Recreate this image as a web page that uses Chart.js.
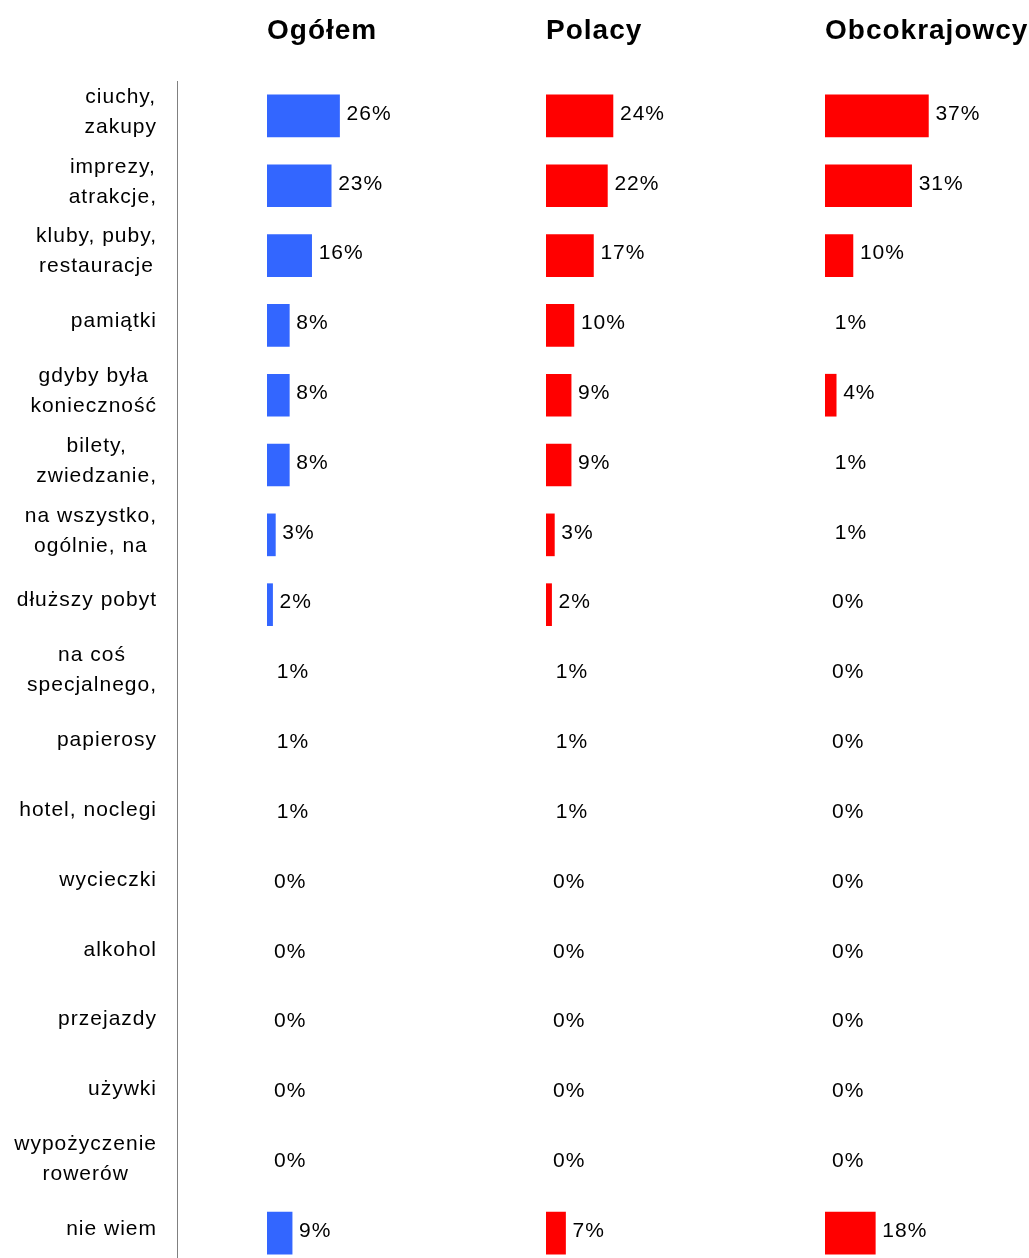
<!DOCTYPE html>
<html>
<head>
<meta charset="utf-8">
<script src="https://cdn.jsdelivr.net/npm/chart.js@4.4.0/dist/chart.umd.min.js"></script>
<style>
  html, body { margin: 0; padding: 0; background: #fff; overflow: hidden; }
  #wrap { position: relative; width: 1029px; height: 1270px; }
</style>
</head>
<body>
<div id="wrap"><canvas id="chart"></canvas></div>
<script>
const categories = [
  ['ciuchy,', 'zakupy'],
  ['imprezy,', 'atrakcje,'],
  ['kluby, puby,', 'restauracje'],
  'pamiątki',
  ['gdyby była', 'konieczność'],
  ['bilety,', 'zwiedzanie,'],
  ['na wszystko,', 'ogólnie, na'],
  'dłuższy pobyt',
  ['na coś', 'specjalnego,'],
  'papierosy',
  'hotel, noclegi',
  'wycieczki',
  'alkohol',
  'przejazdy',
  'używki',
  ['wypożyczenie', 'rowerów'],
  'nie wiem'
];
const groups = ['Ogółem', 'Polacy', 'Obcokrajowcy'];
const ogolem = [26, 23, 16, 8, 8, 8, 3, 2, 1, 1, 1, 0, 0, 0, 0, 0, 9];
const polacy = [24, 22, 17, 10, 9, 9, 3, 2, 1, 1, 1, 0, 0, 0, 0, 0, 7];
const obcokrajowcy = [37, 31, 10, 1, 4, 1, 1, 0, 0, 0, 0, 0, 0, 0, 0, 0, 18];

const FONT = "'Liberation Sans', Arial, sans-serif";
const BLUE = '#3366ff';
const RED = '#ff0000';

Chart.defaults.font.family = FONT;
Chart.defaults.color = '#000';

// bars under 2% are not drawn in the original, only their label
const barColor = (color) => (ctx) => (ctx.raw >= 2 ? color : 'rgba(0,0,0,0)');

const panel = (i, max, width, weight) => ({
  type: 'linear',
  position: 'top',
  stack: 'panels',
  stackWeight: width,
  weight: weight,
  min: 0,
  max: max,
  ticks: { display: false },
  grid: { display: false, drawTicks: false },
  border: { display: false },
  title: {
    display: true,
    text: groups[i],
    align: 'start',
    color: '#000',
    font: { size: 28, weight: 'bold', lineHeight: 1.2 },
    padding: { top: 14, bottom: 60.4 }
  }
});

const spacing = {
  id: 'spacing',
  beforeDraw(chart) {
    chart.ctx.letterSpacing = '1px';
  }
};

const categoryLabels = {
  id: 'categoryLabels',
  afterDraw(chart) {
    const { ctx, scales: { y } } = chart;
    const right = y.right - 20;
    ctx.save();
    ctx.font = '21px ' + FONT;
    ctx.letterSpacing = '1px';
    ctx.fillStyle = '#000';
    ctx.textAlign = 'center';
    ctx.textBaseline = 'middle';
    categories.forEach((label, i) => {
      const lines = Array.isArray(label) ? label : [label];
      const widest = Math.max(...lines.map(l => ctx.measureText(l).width));
      const cx = right - widest / 2;
      const cy = y.getPixelForTick(i) - 4;
      lines.forEach((line, j) => {
        ctx.fillText(line, cx, cy + (j - (lines.length - 1) / 2) * 30);
      });
    });
    ctx.restore();
  }
};

const valueLabels = {
  id: 'valueLabels',
  afterDatasetsDraw(chart) {
    const ctx = chart.ctx;
    ctx.save();
    ctx.font = '21px ' + FONT;
    ctx.letterSpacing = '1px';
    ctx.fillStyle = '#000';
    ctx.textAlign = 'left';
    ctx.textBaseline = 'middle';
    chart.data.datasets.forEach((ds, i) => {
      chart.getDatasetMeta(i).data.forEach((bar, j) => {
        ctx.fillText(ds.data[j] + '%', bar.x + 7, bar.y - 2);
      });
    });
    ctx.restore();
  }
};

new Chart(document.getElementById('chart'), {
  type: 'bar',
  data: {
    labels: categories,
    datasets: [
      { label: groups[0], data: ogolem, xAxisID: 'x0', backgroundColor: barColor(BLUE) },
      { label: groups[1], data: polacy, xAxisID: 'x1', backgroundColor: barColor(RED) },
      { label: groups[2], data: obcokrajowcy, xAxisID: 'x2', backgroundColor: barColor(RED) }
    ]
  },
  options: {
    indexAxis: 'y',
    responsive: true,
    maintainAspectRatio: false,
    animation: false,
    events: [],
    layout: { padding: { top: 0, left: 0, right: 0, bottom: 2 } },
    datasets: {
      bar: { grouped: false, barThickness: 42, borderWidth: 0 }
    },
    scales: {
      y: {
        position: 'left',
        ticks: { display: false },
        grid: { display: false, drawTicks: false },
        border: { display: true, color: '#808080', width: 1 },
        afterFit(scale) { scale.width = 177; }
      },
      gap: {
        type: 'linear',
        axis: 'x',
        position: 'top',
        stack: 'panels',
        stackWeight: 90,
        weight: 4,
        min: 0,
        max: 1,
        ticks: { display: false },
        grid: { display: false, drawTicks: false },
        border: { display: false }
      },
      x0: panel(0, 100, 279, 3),
      x1: panel(1, 100, 279, 2),
      x2: panel(2, 73, 204, 1)
    },
    plugins: {
      legend: { display: false },
      tooltip: { enabled: false }
    }
  },
  plugins: [spacing, categoryLabels, valueLabels]
});
</script>
</body>
</html>
